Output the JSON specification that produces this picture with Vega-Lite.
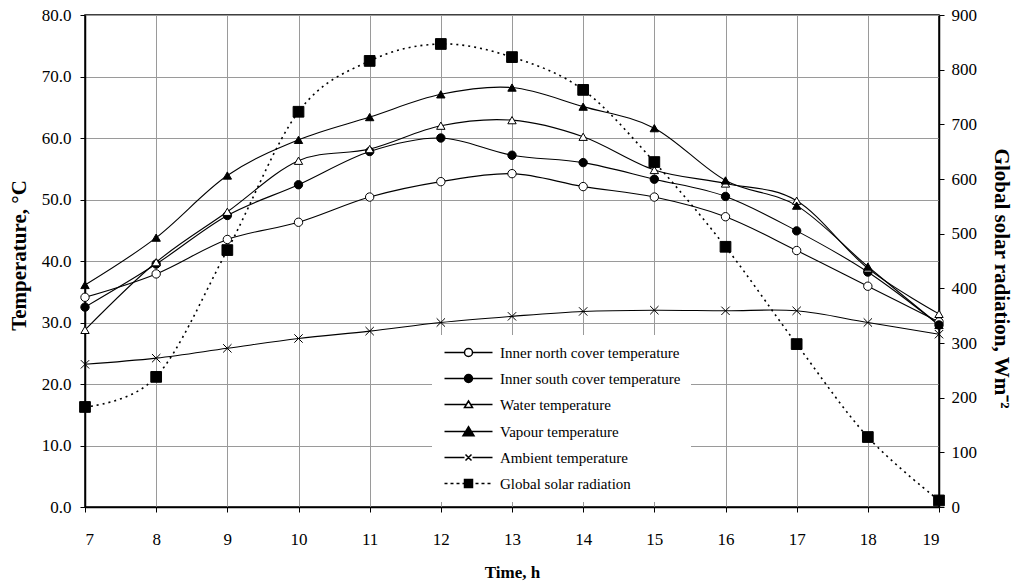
{
  "$schema": "https://vega.github.io/schema/vega-lite/v6.json",
  "width": 854,
  "height": 492,
  "autosize": "none",
  "padding": {"left": 85, "top": 15, "right": 82, "bottom": 79},
  "background": "white",
  "config": {
    "view": {"stroke": "black", "strokeWidth": 1.5},
    "font": "Liberation Serif",
    "axis": {
      "labelFont": "Liberation Serif", "labelFontSize": 17, "labelColor": "black",
      "titleFont": "Liberation Serif", "titleFontSize": 21, "titleFontWeight": "bold", "titleColor": "black",
      "domainColor": "black", "domainWidth": 1.5, "tickColor": "black", "tickSize": 5,
      "gridColor": "#9a9a9a", "gridWidth": 1
    },
    "legend": {
      "orient": "none", "legendX": 347, "legendY": 320,
      "fillColor": "white", "padding": 10, "symbolSize": 100,
      "labelFont": "Liberation Serif", "labelFontSize": 15, "labelColor": "black",
      "labelOffset": 43, "rowPadding": 10, "labelLimit": 400
    }
  },
  "datasets": {
    "temps": [
      {"t": 7, "Inner north cover temperature": 34.1, "Inner south cover temperature": 32.5, "Water temperature": 28.8, "Vapour temperature": 36.1, "Ambient temperature": 23.2},
      {"t": 8, "Inner north cover temperature": 37.9, "Inner south cover temperature": 39.5, "Water temperature": 39.8, "Vapour temperature": 43.8, "Ambient temperature": 24.2},
      {"t": 9, "Inner north cover temperature": 43.5, "Inner south cover temperature": 47.4, "Water temperature": 48.0, "Vapour temperature": 53.9, "Ambient temperature": 25.8},
      {"t": 10, "Inner north cover temperature": 46.3, "Inner south cover temperature": 52.4, "Water temperature": 56.3, "Vapour temperature": 59.7, "Ambient temperature": 27.4},
      {"t": 11, "Inner north cover temperature": 50.4, "Inner south cover temperature": 57.8, "Water temperature": 58.2, "Vapour temperature": 63.4, "Ambient temperature": 28.6},
      {"t": 12, "Inner north cover temperature": 52.9, "Inner south cover temperature": 60.0, "Water temperature": 62.0, "Vapour temperature": 67.1, "Ambient temperature": 30.0},
      {"t": 13, "Inner north cover temperature": 54.2, "Inner south cover temperature": 57.2, "Water temperature": 62.9, "Vapour temperature": 68.2, "Ambient temperature": 31.0},
      {"t": 14, "Inner north cover temperature": 52.1, "Inner south cover temperature": 56.0, "Water temperature": 60.2, "Vapour temperature": 65.1, "Ambient temperature": 31.8},
      {"t": 15, "Inner north cover temperature": 50.4, "Inner south cover temperature": 53.3, "Water temperature": 54.8, "Vapour temperature": 61.6, "Ambient temperature": 32.0},
      {"t": 16, "Inner north cover temperature": 47.2, "Inner south cover temperature": 50.5, "Water temperature": 52.6, "Vapour temperature": 53.1, "Ambient temperature": 31.9},
      {"t": 17, "Inner north cover temperature": 41.7, "Inner south cover temperature": 44.9, "Water temperature": 49.8, "Vapour temperature": 49.0, "Ambient temperature": 31.9},
      {"t": 18, "Inner north cover temperature": 35.9, "Inner south cover temperature": 38.2, "Water temperature": 38.8, "Vapour temperature": 39.1, "Ambient temperature": 30.0},
      {"t": 19, "Inner north cover temperature": 30.1, "Inner south cover temperature": 29.6, "Water temperature": 31.4, "Vapour temperature": 29.6, "Ambient temperature": 28.1}
    ],
    "solar": [
      {"t": 7, "s": "Global solar radiation", "v": 183},
      {"t": 8, "s": "Global solar radiation", "v": 238},
      {"t": 9, "s": "Global solar radiation", "v": 470},
      {"t": 10, "s": "Global solar radiation", "v": 723},
      {"t": 11, "s": "Global solar radiation", "v": 816},
      {"t": 12, "s": "Global solar radiation", "v": 847},
      {"t": 13, "s": "Global solar radiation", "v": 823},
      {"t": 14, "s": "Global solar radiation", "v": 763},
      {"t": 15, "s": "Global solar radiation", "v": 631},
      {"t": 16, "s": "Global solar radiation", "v": 476},
      {"t": 17, "s": "Global solar radiation", "v": 298},
      {"t": 18, "s": "Global solar radiation", "v": 128},
      {"t": 19, "s": "Global solar radiation", "v": 12}
    ],
    "series": [
      {"s": "Inner north cover temperature"},
      {"s": "Inner south cover temperature"},
      {"s": "Water temperature"},
      {"s": "Vapour temperature"},
      {"s": "Ambient temperature"},
      {"s": "Global solar radiation"}
    ]
  },
  "layer": [
    {
      "data": {"name": "temps"},
      "transform": [
        {"fold": ["Inner north cover temperature", "Inner south cover temperature", "Water temperature", "Vapour temperature", "Ambient temperature"], "as": ["s", "v"]}
      ],
      "encoding": {
        "x": {
          "field": "t", "type": "quantitative",
          "scale": {"domain": [7, 19], "nice": false, "zero": false},
          "axis": {"title": "Time, h", "titleFontSize": 17, "values": [7,8,9,10,11,12,13,14,15,16,17,18,19], "format": "d", "labelPadding": 19, "titlePadding": 17, "grid": true}
        },
        "y": {
          "field": "v", "type": "quantitative",
          "scale": {"domain": [0, 80], "nice": false},
          "axis": {"title": "Temperature, °C", "values": [0,10,20,30,40,50,60,70,80], "format": ".1f", "labelPadding": 9, "titlePadding": 12, "titleY": 240, "grid": true}
        }
      },
      "layer": [
        {
          "mark": {"type": "line", "interpolate": "cardinal", "color": "black", "strokeWidth": 1.1},
          "encoding": {"detail": {"field": "s"}}
        },
        {
          "mark": {"type": "point", "stroke": "black", "strokeWidth": 1, "filled": true, "opacity": 1},
          "encoding": {
            "shape": {"field": "s", "type": "nominal", "legend": null,
              "scale": {"domain": ["Inner north cover temperature", "Inner south cover temperature", "Water temperature", "Vapour temperature", "Ambient temperature"],
                        "range": ["circle", "circle", "triangle-up", "triangle-up", "M-1,-1L1,1M-1,1L1,-1"]}},
            "fill": {"field": "s", "type": "nominal", "legend": null,
              "scale": {"domain": ["Inner north cover temperature", "Inner south cover temperature", "Water temperature", "Vapour temperature", "Ambient temperature"],
                        "range": ["white", "black", "white", "black", "transparent"]}},
            "size": {"field": "s", "type": "nominal", "legend": null,
              "scale": {"domain": ["Inner north cover temperature", "Inner south cover temperature", "Water temperature", "Vapour temperature", "Ambient temperature"],
                        "range": [70, 70, 64, 125, 36]}}
          }
        }
      ]
    },
    {
      "data": {"name": "solar"},
      "encoding": {
        "x": {"field": "t", "type": "quantitative"},
        "y": {
          "field": "v", "type": "quantitative",
          "scale": {"domain": [0, 900], "nice": false},
          "axis": {"orient": "right", "title": "Global solar radiation, Wm⁻²", "values": [0,100,200,300,400,500,600,700,800,900], "labelPadding": 7, "titlePadding": 14, "titleY": 263, "grid": false}
        }
      },
      "layer": [
        {
          "mark": {"type": "line", "interpolate": "cardinal", "color": "black", "strokeWidth": 1.6, "strokeDash": [2, 4]},
          "encoding": {}
        },
        {
          "mark": {"type": "point", "shape": "square", "size": 115, "fill": "black", "stroke": "black", "strokeWidth": 1, "filled": true, "opacity": 1},
          "encoding": {}
        }
      ]
    },
    {
      "data": {"name": "series"},
      "mark": {"type": "point", "opacity": 0, "filled": true, "fill": "white", "stroke": "black", "strokeWidth": 1.1},
      "encoding": {
        "shape": {"field": "s", "type": "nominal", "legend": {"title": null},
          "scale": {"domain": ["Inner north cover temperature", "Inner south cover temperature", "Water temperature", "Vapour temperature", "Ambient temperature", "Global solar radiation"],
                    "range": [
                      "M-1,0H3M4.6,0H8.6M4.6,0A0.8,0.8 0 1,1 3,0A0.8,0.8 0 1,1 4.6,0Z",
                      "M-1,0H8.6M4.6,0A0.8,0.8 0 1,1 3,0A0.8,0.8 0 1,1 4.6,0ZM3.27,-0.6H4.33M3.11,-0.4H4.49M3.03,-0.2H4.57M3.03,0.2H4.57M3.11,0.4H4.49M3.27,0.6H4.33",
                      "M-1,0H3.35M4.25,0H8.6M3.8,-0.7L4.6,0.6L3,0.6Z",
                      "M-1,0H8.6M3.8,-0.95L4.9,0.85L2.7,0.85ZM3.59,-0.6H4.01M3.46,-0.4H4.14M3.34,-0.2H4.26M3.1,0.2H4.5M2.98,0.4H4.62M2.85,0.6H4.75M2.76,0.8H4.84",
                      "M-1,0H3M4.6,0H8.6M3.2,-0.6L4.4,0.6M3.2,0.6L4.4,-0.6",
                      "M-1,0H-0.4M0.2,0H0.8M1.4,0H2M2.6,0H3M3,-0.8H4.6V0.8H3ZM3,-0.6H4.6M3,-0.4H4.6M3,-0.2H4.6M3,0H4.6M3,0.2H4.6M3,0.4H4.6M3,0.6H4.6M5.2,0H5.8M6.4,0H7M7.6,0H8.2"
                    ]}}
      }
    }
  ],
  "resolve": {"scale": {"y": "independent", "shape": "independent", "fill": "independent", "size": "independent"}}
}
